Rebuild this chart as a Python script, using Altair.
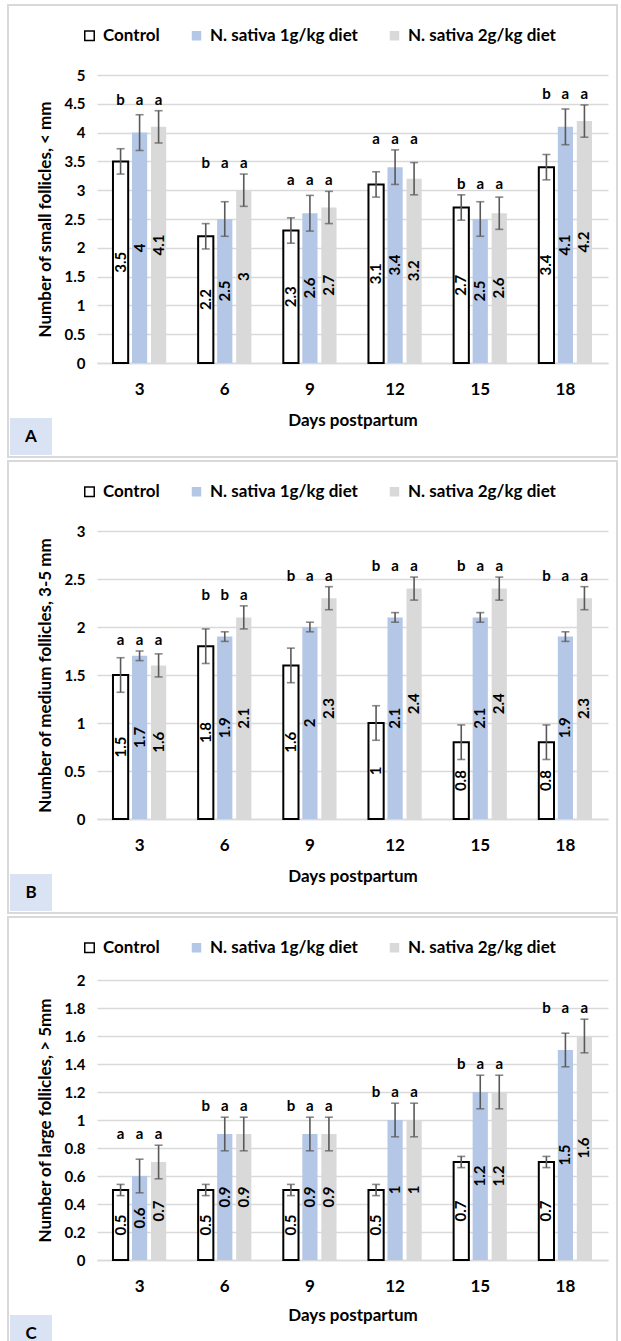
import altair as alt
import pandas as pd

FONT = "Lato"

days = ["3", "6", "9", "12", "15", "18"]
groups = ["Control", "N. sativa 1g/kg diet", "N. sativa 2g/kg diet"]
colors = ["#ffffff", "#b4c7e7", "#d9d9d9"]
strokes = ["#000000", "transparent", "transparent"]

# Panel A: small follicles
a_control = [3.5, 2.2, 2.3, 3.1, 2.7, 3.4]
a_1g = [4.0, 2.5, 2.6, 3.4, 2.5, 4.1]
a_2g = [4.1, 3.0, 2.7, 3.2, 2.6, 4.2]
a_err_control = [0.22, 0.22, 0.22, 0.22, 0.22, 0.22]
a_err_1g = [0.31, 0.3, 0.31, 0.3, 0.3, 0.31]
a_err_2g = [0.28, 0.28, 0.28, 0.28, 0.28, 0.28]
a_letters = ["baa", "baa", "aaa", "aaa", "baa", "baa"]
a_ticks = [0, 0.5, 1, 1.5, 2, 2.5, 3, 3.5, 4, 4.5, 5]

# Panel B: medium follicles
b_control = [1.5, 1.8, 1.6, 1.0, 0.8, 0.8]
b_1g = [1.7, 1.9, 2.0, 2.1, 2.1, 1.9]
b_2g = [1.6, 2.1, 2.3, 2.4, 2.4, 2.3]
b_err_control = [0.18, 0.18, 0.18, 0.18, 0.18, 0.18]
b_err_1g = [0.05, 0.05, 0.05, 0.05, 0.05, 0.05]
b_err_2g = [0.12, 0.12, 0.12, 0.12, 0.12, 0.12]
b_letters = ["aaa", "bba", "baa", "baa", "baa", "baa"]
b_ticks = [0, 0.5, 1, 1.5, 2, 2.5, 3]

# Panel C: large follicles
c_control = [0.5, 0.5, 0.5, 0.5, 0.7, 0.7]
c_1g = [0.6, 0.9, 0.9, 1.0, 1.2, 1.5]
c_2g = [0.7, 0.9, 0.9, 1.0, 1.2, 1.6]
c_err_control = [0.04, 0.04, 0.04, 0.04, 0.04, 0.04]
c_err_1g = [0.12, 0.12, 0.12, 0.12, 0.12, 0.12]
c_err_2g = [0.12, 0.12, 0.12, 0.12, 0.12, 0.12]
c_letters = ["aaa", "baa", "baa", "baa", "baa", "baa"]
c_ticks = [0, 0.2, 0.4, 0.6, 0.8, 1, 1.2, 1.4, 1.6, 1.8, 2]

W = 511


def make_df(vals, errs, letters):
    rows = []
    for i, d in enumerate(days):
        for gi, g in enumerate(groups):
            v = vals[gi][i]
            e = errs[gi][i]
            rows.append(dict(day=d, group=g, value=v, lo=v - e, hi=v + e,
                             letter=letters[i][gi], label=f"{v:g}", mid=v / 2))
    return pd.DataFrame(rows)


def panel(tag, ytitle, vals, errs, letters, ticks, H, top_off, title_y):
    df = make_df(vals, errs, letters)
    x = alt.X("day:N", sort=days,
              scale=alt.Scale(paddingInner=0, paddingOuter=0),
              axis=alt.Axis(title="Days postpartum", labelAngle=0, labelPadding=18,
                            labelFontSize=17, titleFontSize=17,
                            titleY=title_y, titleBaseline="middle",
                            domainColor="#d9d9d9", domainWidth=1.5, ticks=False,
                            grid=False))
    xo = alt.XOffset("group:N", sort=groups,
                     scale=alt.Scale(paddingInner=0.2, paddingOuter=0.84))
    yscale = alt.Scale(domain=[ticks[0], ticks[-1]], nice=False)
    yaxis = alt.Axis(title=ytitle, values=ticks, format="~g", labelFontSize=15,
                     labelPadding=12, ticks=False, domain=False, grid=True,
                     labelOverlap=False, tickCount=len(ticks),
                     gridColor="#d9d9d9", gridWidth=1.3, titleFontSize=17,
                     titleX=-52, titleY=H / 2, titleAngle=270,
                     titleAlign="center", titleBaseline="middle")

    def Y(field):
        return alt.Y(field, scale=yscale, axis=yaxis)

    legend = alt.Legend(orient="none", legendX=-16, legendY=-top_off + 22,
                        direction="horizontal", title=None, symbolType="square",
                        symbolSize=90, symbolStrokeWidth=1.5, labelFontSize=17,
                        labelOffset=5, columnPadding=28, labelFont=FONT,
                        labelFontWeight="bold", labelColor="#000000")
    base = alt.Chart(df)
    bars = base.mark_bar(strokeWidth=2).encode(
        x=x, xOffset=xo,
        y=Y("value:Q"),
        fill=alt.Fill("group:N", sort=groups,
                      scale=alt.Scale(domain=groups, range=colors), legend=legend),
        stroke=alt.Stroke("group:N", sort=groups,
                          scale=alt.Scale(domain=groups, range=strokes), legend=legend),
    )
    rules = base.mark_rule(color="#595959", strokeWidth=1.6).encode(
        x=x, xOffset=xo, y=Y("lo:Q"), y2="hi:Q")
    caps_hi = base.mark_tick(color="#595959", size=8, thickness=1.6).encode(
        x=x, xOffset=xo, y=Y("hi:Q"))
    caps_lo = base.mark_tick(color="#595959", size=8, thickness=1.6).encode(
        x=x, xOffset=xo, y=Y("lo:Q"))
    letters_t = base.transform_joinaggregate(
        top="max(hi)", groupby=["day"]
    ).mark_text(fontSize=15, fontWeight="bold", font=FONT, dy=-11,
                baseline="middle", color="#000000").encode(
        x=x, xOffset=xo, y=Y("top:Q"), text="letter:N")
    values_t = base.mark_text(fontSize=15, fontWeight="bold", font=FONT, angle=270,
                              baseline="middle", align="center",
                              color="#000000").encode(
        x=x, xOffset=xo, y=Y("mid:Q"), text="label:N")

    deco = alt.Chart(alt.Data(values=[{"tag": tag}]))
    frame = deco.mark_rect(fill="transparent", stroke="#d9d9d9", strokeWidth=2).encode(
        x=alt.value(-89), x2=alt.value(W + 9), y=alt.value(-top_off),
        y2=alt.value(H + 94))
    box = deco.mark_rect(fill="#dae3f3").encode(
        x=alt.value(-87), x2=alt.value(-45), y=alt.value(H + 55), y2=alt.value(H + 92))
    box_t = deco.mark_text(fontSize=17, fontWeight="bold", font=FONT,
                           baseline="middle", align="center", color="#000000").encode(
        x=alt.value(-66), y=alt.value(H + 74), text="tag:N")

    return alt.layer(frame, box, box_t, bars, rules, caps_hi, caps_lo,
                     letters_t, values_t).properties(width=W, height=H)


pa = panel("A", "Number of small follicles, < mm",
           [a_control, a_1g, a_2g], [a_err_control, a_err_1g, a_err_2g],
           a_letters, a_ticks, 288, 70, 57)
pb = panel("B", "Number of medium follicles, 3-5 mm",
           [b_control, b_1g, b_2g], [b_err_control, b_err_1g, b_err_2g],
           b_letters, b_ticks, 288, 70, 57)
pc = panel("C", "Number of large follicles, > 5mm",
           [c_control, c_1g, c_2g], [c_err_control, c_err_1g, c_err_2g],
           c_letters, c_ticks, 280, 63, 55)

chart = alt.vconcat(pa, pb, pc, spacing=2).resolve_scale(
    fill="independent", stroke="independent", x="independent", y="independent"
).resolve_legend(fill="independent", stroke="independent").properties(
    padding={"left": 7, "top": 4, "right": 0, "bottom": 0},
    background="#ffffff",
).configure_view(stroke=None).configure_axis(
    labelFont=FONT, titleFont=FONT, labelFontWeight="bold", titleFontWeight="bold",
    labelColor="#000000", titleColor="#000000"
)

chart.save("out.html", embed_options={"renderer": "svg", "actions": False})
